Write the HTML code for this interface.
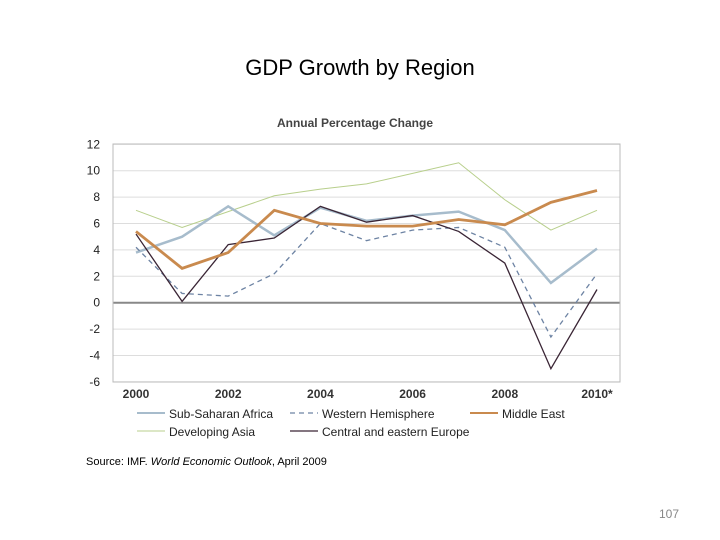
<!DOCTYPE html>
<html><head><meta charset="utf-8"><style>
body{margin:0;width:720px;height:540px;background:#fff;font-family:"Liberation Sans",sans-serif;overflow:hidden;position:relative}
.t{position:absolute}
</style></head><body>
<div class="t" style="left:0;width:720px;top:55px;text-align:center;font-size:22px;color:#000">GDP Growth by Region</div>
<svg width="720" height="540" style="position:absolute;left:0;top:0">
<text x="355" y="127" text-anchor="middle" font-size="12" fill="#444" font-weight="bold">Annual Percentage Change</text>
<g id="grid"></g><g id="series"></g><g id="legend"></g>
</svg>
<div class="t" style="left:86px;top:456px;font-size:11px;color:#000">Source: IMF. <i>World Economic Outlook</i>, April 2009</div>
<div class="t" style="left:659px;top:507px;font-size:12px;color:#888">107</div>
<script>
const years=["2000","2002","2004","2006","2008","2010*"];
const yTicks=[12,10,8,6,4,2,0,-2,-4,-6];
const subSaharan=[3.8,5.0,7.3,5.1,7.2,6.2,6.6,6.9,5.5,1.5,4.1];
const westernHemisphere=[4.2,0.7,0.5,2.2,6.0,4.7,5.5,5.7,4.2,-2.6,2.2];
const middleEast=[5.4,2.6,3.8,7.0,6.0,5.8,5.8,6.3,5.9,7.6,8.5];
const developingAsia=[7.0,5.7,6.9,8.1,8.6,9.0,9.8,10.6,7.8,5.5,7.0];
const centralEurope=[5.2,0.1,4.4,4.9,7.3,6.1,6.6,5.4,3.0,-5.0,1.0];
const NS="http://www.w3.org/2000/svg";
const L=113,R=620,T=144,B=382;
const x=i=>136+i*46.1;
const y=v=>302.7-v*13.2;
function mk(p,tag,a){const e=document.createElementNS(NS,tag);for(const k in a)e.setAttribute(k,a[k]);p.appendChild(e);return e;}
const g=document.getElementById('grid');
yTicks.forEach(v=>{
 const ln=mk(g,'line',{x1:L,x2:R,y1:y(v),y2:y(v),stroke:v===0?'#888':'#ddd','stroke-width':v===0?2:1});
 
 
 const t=mk(g,'text',{x:100,y:y(v)+4,'text-anchor':'end','font-size':12,fill:'#222'});t.textContent=v;
 
 
});
mk(g,'rect',{x:L,y:T,width:R-L,height:B-T,fill:'none',stroke:'#bbb'});
years.forEach((s,i)=>{const t=mk(g,'text',{x:x(i*2),y:398,'text-anchor':'middle','font-size':12,fill:'#333','font-weight':'bold'});t.textContent=s;
 
 });
const S=[
 ["developing-asia",developingAsia,"#b8cf8c",1,"","Developing Asia"],
 ["sub-saharan-africa",subSaharan,"#a7bccc",2.5,"","Sub-Saharan Africa"],
 ["western-hemisphere",westernHemisphere,"#6d83a3",1.3,"5,4","Western Hemisphere"],
 ["central-eastern-europe",centralEurope,"#3a2535",1.3,"","Central and eastern Europe"],
 ["middle-east",middleEast,"#c98a4e",2.8,"","Middle East"]];
const sg=document.getElementById('series');
S.forEach(s=>{const p=mk(sg,'polyline',{points:s[1].map((v,i)=>x(i)+','+y(v)).join(' '),fill:'none',stroke:s[2],'stroke-width':s[3],'stroke-dasharray':s[4]});
 
 });
const lg=document.getElementById('legend');
const pos={"sub-saharan-africa":[137,413],"western-hemisphere":[290,413],"middle-east":[470,413],"developing-asia":[137,431],"central-eastern-europe":[290,431]};
S.forEach(s=>{const [lx,ly]=pos[s[0]];
 const e=mk(lg,'g',{});
 
 
 mk(e,'line',{x1:lx,x2:lx+28,y1:ly,y2:ly,stroke:s[2],'stroke-width':Math.min(s[3],2),'stroke-dasharray':s[4]});
 const t=mk(e,'text',{x:lx+32,y:ly+5,'font-size':12,fill:'#222'});t.textContent=s[5];});
</script>
</body></html>
